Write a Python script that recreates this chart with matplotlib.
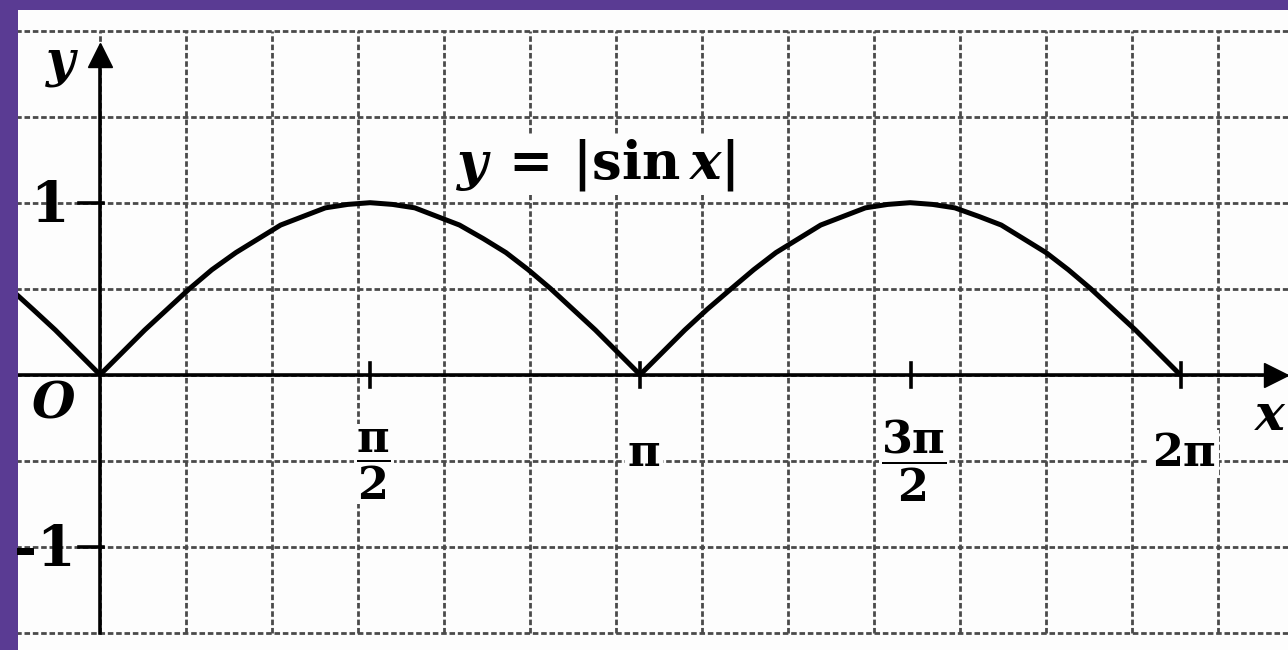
import numpy as np
import matplotlib
matplotlib.use("Agg")
import matplotlib.pyplot as plt

plt.rcParams["mathtext.fontset"] = "custom"
plt.rcParams["mathtext.rm"] = "DejaVu Serif:bold"
plt.rcParams["mathtext.it"] = "DejaVu Serif:italic:bold"
plt.rcParams["mathtext.bf"] = "DejaVu Serif:bold"

# points of the curve y = |sin x|
curve_x = [-0.50, -0.39, -0.26, -0.13,
           0.00, 0.13, 0.26, 0.39, 0.52, 0.65, 0.79, 0.92, 1.05, 1.18, 1.31, 1.44,
           1.57, 1.70, 1.83, 1.96, 2.09, 2.23, 2.36, 2.49, 2.62, 2.75, 2.88, 3.01,
           3.14, 3.27, 3.40, 3.53, 3.67, 3.80, 3.93, 4.06, 4.19, 4.32, 4.45, 4.58,
           4.71, 4.84, 4.97, 5.11, 5.24, 5.37, 5.50, 5.63, 5.76, 5.89, 6.02, 6.15,
           6.28]
curve_y = [0.48, 0.38, 0.26, 0.13,
           0.00, 0.13, 0.26, 0.38, 0.50, 0.61, 0.71, 0.79, 0.87, 0.92, 0.97, 0.99,
           1.00, 0.99, 0.97, 0.92, 0.87, 0.79, 0.71, 0.61, 0.50, 0.38, 0.26, 0.13,
           0.00, 0.13, 0.26, 0.38, 0.50, 0.61, 0.71, 0.79, 0.87, 0.92, 0.97, 0.99,
           1.00, 0.99, 0.97, 0.92, 0.87, 0.79, 0.71, 0.61, 0.50, 0.38, 0.26, 0.13,
           0.00]

xtick_pos = [1.5708, 3.1416, 4.7124, 6.2832]
xtick_labels = [r"$\dfrac{\mathrm{\pi}}{2}$", r"$\mathrm{\pi}$", r"$\dfrac{3\mathrm{\pi}}{2}$", r"$2\mathrm{\pi}$"]
xtick_label_y = [-0.52, -0.46, -0.50, -0.46]
ytick_pos = [1, -1]
ytick_labels = ["1", "-1"]

grid_x = np.arange(-0.5, 7.0, 0.5)
grid_y = np.arange(-1.5, 2.01, 0.5)

purple = "#5a3b93"
paper = "#fdfdfd"
fig = plt.figure(figsize=(12.88, 6.5), dpi=100, facecolor=purple)
ax = fig.add_axes([18 / 1288, 0, 1270 / 1288, 640 / 650])
ax.set_facecolor(paper)
ax.set_xlim(-0.477, 6.907)
ax.set_ylim(-1.60, 2.12)
for s in ax.spines.values():
    s.set_visible(False)
ax.set_xticks([])
ax.set_yticks([])

# squared paper, printed dotted look
gstyle = dict(color="#4a4a4a", lw=2.0, linestyle=(0, (2, 1)), zorder=1)
ax.hlines(grid_y, -0.6, 7.0, **gstyle)
ax.vlines(grid_x, -1.5, 2.0, **gstyle)

# axes with arrows
ax.plot([-0.6, 6.80], [0, 0], color="black", lw=2.6, zorder=3)
ax.plot([0, 0], [-1.5, 1.85], color="black", lw=2.6, zorder=3)
ax.plot(6.84, 0, marker=">", markersize=17, color="black", zorder=4, clip_on=False)
ax.plot(0, 1.86, marker="^", markersize=17, color="black", zorder=4)

# tick marks
for xt in xtick_pos:
    ax.plot([xt, xt], [-0.07, 0.07], color="black", lw=2.6, zorder=3)
for yt in ytick_pos:
    ax.plot([-0.12, 0.02], [yt, yt], color="black", lw=2.6, zorder=3)

ax.plot(curve_x, curve_y, color="black", lw=3.6, zorder=5,
        solid_joinstyle="round", solid_capstyle="butt")

box = dict(facecolor=paper, edgecolor="none", pad=2)
for xt, ly, lab in zip(xtick_pos, xtick_label_y, xtick_labels):
    ax.text(xt + 0.02, ly, lab, fontsize=32, ha="center", va="center", bbox=box, zorder=6)

ax.text(-0.18, 0.98, ytick_labels[0], fontsize=40, ha="right", va="center",
        family="DejaVu Serif", weight="bold", zorder=6)
ax.text(-0.14, -1.02, ytick_labels[1], fontsize=40, ha="right", va="center",
        family="DejaVu Serif", weight="bold", zorder=6)

ax.text(-0.27, -0.17, r"$O$", fontsize=36, ha="center", va="center", zorder=6)
ax.text(-0.22, 1.80, r"$y$", fontsize=36, ha="center", va="center", zorder=6)
ax.text(6.905, -0.24, r"$x$", fontsize=36, ha="right", va="center", bbox=box, zorder=6)

ax.text(2.07, 1.22, r"$y\,=\,|\mathrm{sin}\,x|$", fontsize=38, ha="left", va="center",
        bbox=dict(facecolor=paper, edgecolor="none", pad=2), zorder=6)

fig.savefig("out.png", dpi=100, facecolor=purple)
